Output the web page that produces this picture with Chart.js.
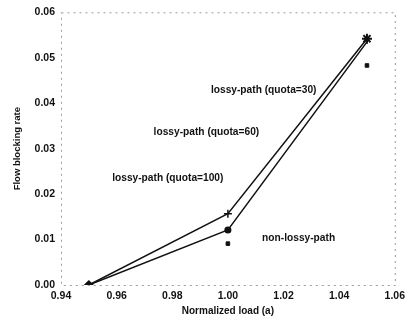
<!DOCTYPE html>
<html>
<head>
<meta charset="utf-8">
<script src="https://cdn.jsdelivr.net/npm/chart.js@4"></script>
<style>
  html, body { margin: 0; padding: 0; background: #fff; }
  #wrap { width: 410px; height: 322px; }
</style>
</head>
<body>
<div id="wrap"><canvas id="c"></canvas></div>
<script>
const loads = [0.95, 1.00, 1.05];
const quota30 = [0, 0.0157, 0.0542];
const quota60 = [0, 0.0121, 0.0535];
const nonLossy = [null, 0.0091, 0.0483];

const xTicks = [0.94, 0.96, 0.98, 1.00, 1.02, 1.04, 1.06];
const yTicks = [0, 0.01, 0.02, 0.03, 0.04, 0.05, 0.06];

// text labels inside the plot, anchored in data units
const labelText = ['lossy-path (quota=30)', 'lossy-path (quota=60)', 'lossy-path (quota=100)', 'non-lossy-path'];
const labelX = [0.9939, 0.9733, 0.9584, 1.0123];
const labelY = [0.0428, 0.0337, 0.0235, 0.0104];

const font = 'Liberation Sans, Arial, sans-serif';
const ink = '#111';

const toPoints = (vals) => loads.map((x, i) => ({ x, y: vals[i] }));

const frame = {
  id: 'frame',
  beforeDatasetsDraw(chart) {
    const { ctx, chartArea: a } = chart;
    ctx.save();
    ctx.strokeStyle = '#9a9a9a';
    ctx.lineWidth = 1;
    ctx.setLineDash([2, 4]);
    ctx.strokeRect(a.left + 0.5, a.top + 0.5, a.right - a.left, a.bottom - a.top);
    ctx.restore();
  },
  afterDraw(chart) {
    const { ctx, scales: { x, y } } = chart;
    ctx.save();
    ctx.fillStyle = ink;
    ctx.font = 'bold 10.2px ' + font;
    ctx.textBaseline = 'middle';
    labelText.forEach((t, i) => {
      ctx.fillText(t, x.getPixelForValue(labelX[i]), y.getPixelForValue(labelY[i]));
    });
    ctx.restore();
  }
};

new Chart(document.getElementById('c'), {
  type: 'scatter',
  data: {
    datasets: [
      {
        label: 'lossy-path (quota=30)',
        data: toPoints(quota30),
        showLine: true,
        borderColor: ink,
        borderWidth: 1.5,
        pointStyle: ['rectRot', 'cross', 'star'],
        pointRadius: [4, 4, 5],
        pointBorderWidth: [1, 1.5, 2],
        pointBackgroundColor: ink,
        pointBorderColor: ink,
      },
      {
        label: 'lossy-path (quota=60)',
        data: toPoints(quota60),
        showLine: true,
        borderColor: ink,
        borderWidth: 1.5,
        pointStyle: ['rectRot', 'circle', 'circle'],
        pointRadius: [4, 2.8, 0],
        pointBackgroundColor: ink,
        pointBorderColor: ink,
      },
      {
        label: 'non-lossy-path',
        data: toPoints(nonLossy),
        showLine: false,
        pointStyle: 'rect',
        pointRadius: 2.5,
        pointBackgroundColor: ink,
        pointBorderColor: ink,
      },
    ],
  },
  options: {
    responsive: true,
    maintainAspectRatio: false,
    animation: false,
    layout: { padding: { left: 0, right: 10, top: 9, bottom: 0 } },
    plugins: {
      legend: { display: false },
      tooltip: { enabled: false },
    },
    scales: {
      x: {
        type: 'linear',
        min: 0.94,
        max: 1.06,
        afterBuildTicks: (s) => { s.ticks = xTicks.map(v => ({ value: v })); },
        afterFit: (s) => { s.height = 37; },
        grid: { display: false, drawTicks: false },
        border: { display: false },
        ticks: {
          color: ink,
          padding: 5,
          font: { family: font, size: 10.5, weight: 'bold' },
          callback: (v) => v.toFixed(2),
        },
        title: {
          display: true,
          text: 'Normalized load (a)',
          color: ink,
          font: { family: font, size: 10, weight: 'bold' },
          padding: { top: 0, bottom: 5 },
        },
      },
      y: {
        type: 'linear',
        min: 0,
        max: 0.06,
        afterBuildTicks: (s) => { s.ticks = yTicks.map(v => ({ value: v })); },
        afterFit: (s) => { s.width = 61; },
        grid: { display: false, drawTicks: false },
        border: { display: false },
        ticks: {
          color: ink,
          padding: 6,
          font: { family: font, size: 10.5, weight: 'bold' },
          callback: (v) => v.toFixed(2),
        },
        title: {
          display: true,
          text: 'Flow blocking rate',
          color: ink,
          font: { family: font, size: 9.5, weight: 'bold' },
          padding: { top: 12, bottom: 0 },
        },
      },
    },
  },
  plugins: [frame],
});
</script>
</body>
</html>
